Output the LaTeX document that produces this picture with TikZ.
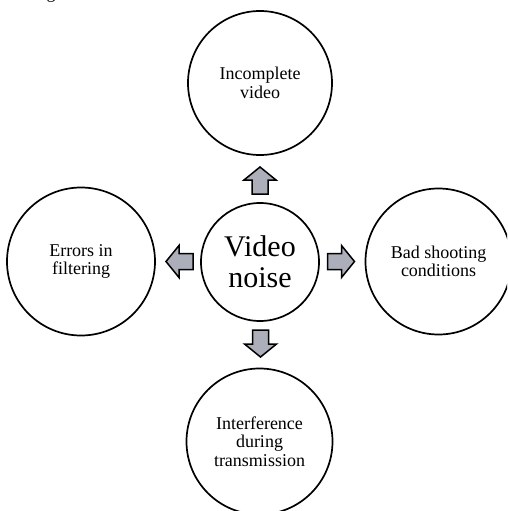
\documentclass[tikz,border=0pt]{standalone}
\usepackage{fontspec}
\setmainfont{Liberation Serif}
\definecolor{arrowgray}{RGB}{172,175,186}
\tikzset{
  outer/.style={circle,draw=black,line width=1.7pt,minimum size=146pt,inner sep=0pt,
    align=center,font=\fontsize{18pt}{18.5pt}\selectfont},
  inner/.style={circle,draw=black,line width=1.7pt,minimum size=118pt,inner sep=0pt,
    align=center,font=\fontsize{30pt}{31pt}\selectfont},
  bigarrow/.pic={
    \draw[line width=1.5pt,fill=arrowgray,line join=miter]
      (-13.5,-8) -- (0.5,-8) -- (0.5,-16) -- (13.5,0) -- (0.5,16) -- (0.5,8) -- (-13.5,8) -- cycle;
  }
}
\begin{document}
\begin{tikzpicture}[x=1pt,y=-1pt]
\useasboundingbox (0,0) rectangle (507,511);
\begin{scope}
\clip (0,0) rectangle (507,511);
\node[font=\fontsize{18pt}{18pt}\selectfont,anchor=base,inner sep=0pt] (cap) at (51,-1) {g};
\node[inner] (c) at (260,262) {Video\\noise};
\node[outer,minimum size=144pt] (t) at (260,83) {Incomplete\\video};
\node[outer,minimum size=148pt] (l) at (81,261.5) {Errors in\\filtering};
\node[outer] (r) at (438.5,261.5) {Bad shooting\\conditions};
\node[outer] (b) at (259.5,441.5) {Interference\\during\\transmission};
\pic[rotate=90] at (260,180.5) {bigarrow};
\pic[rotate=270] at (260.5,343.5) {bigarrow};
\pic[rotate=180] at (179.5,261.5) {bigarrow};
\pic at (341,261.5) {bigarrow};
\end{scope}
\end{tikzpicture}
\end{document}
